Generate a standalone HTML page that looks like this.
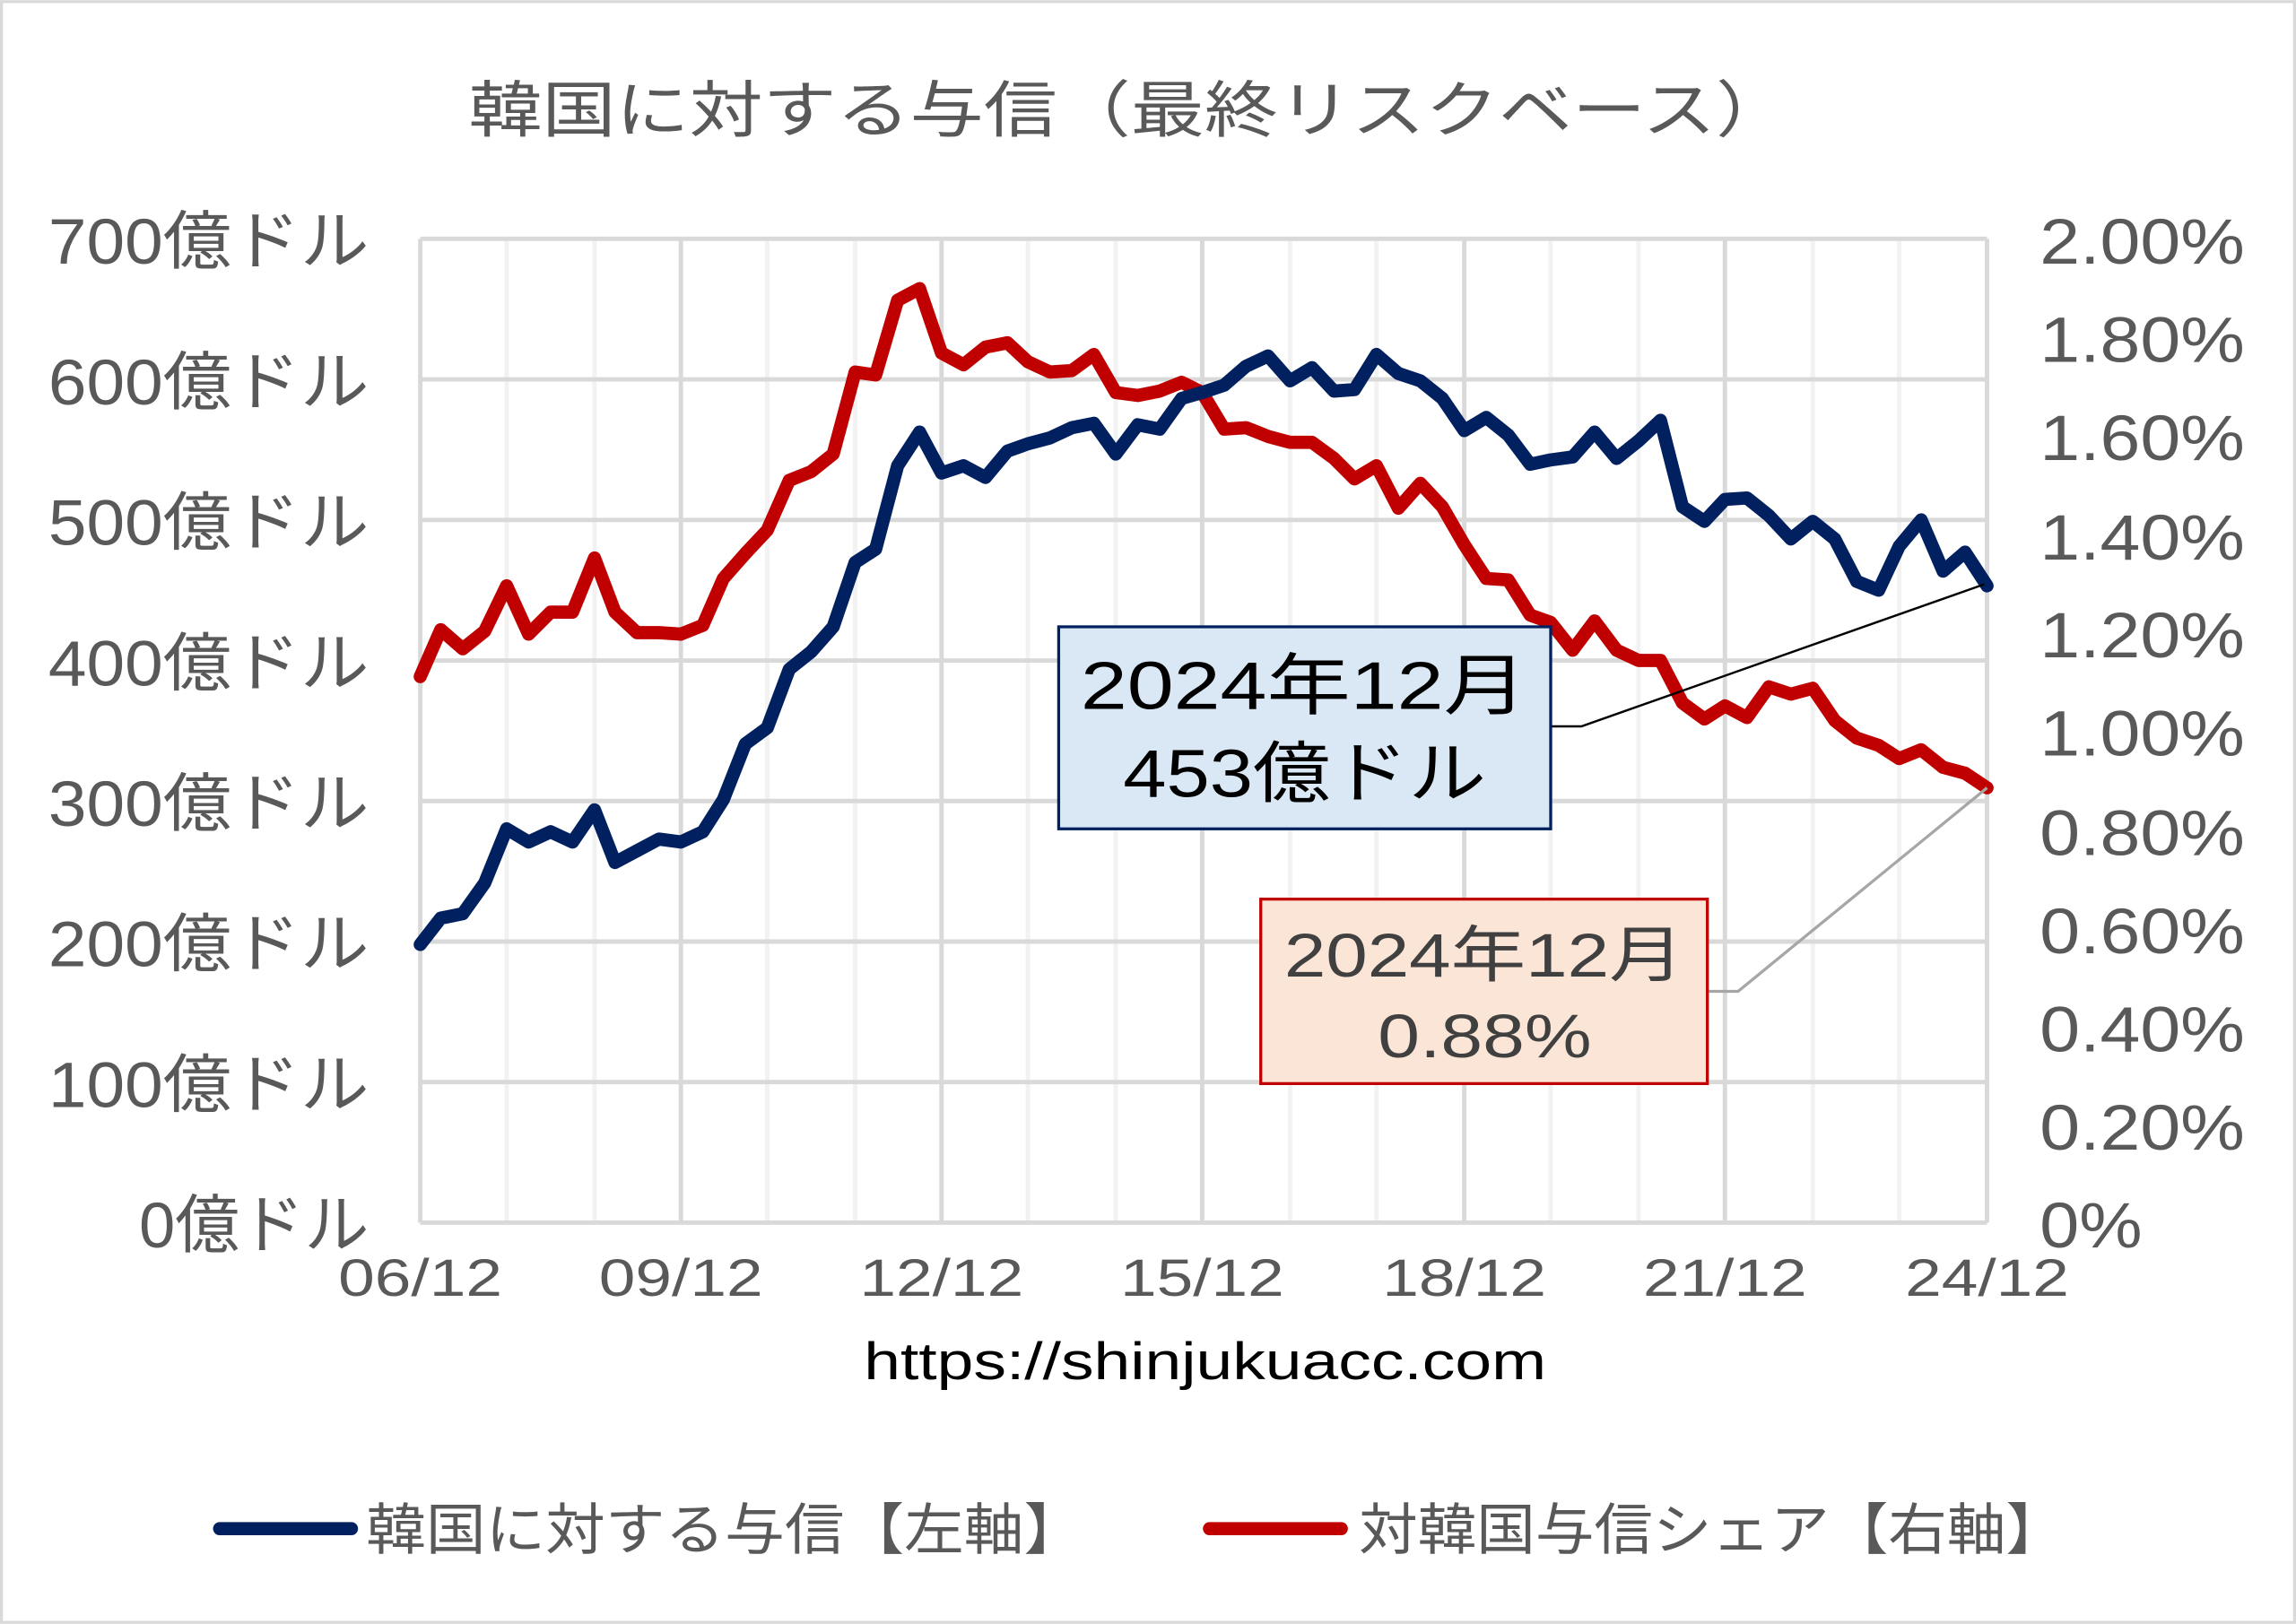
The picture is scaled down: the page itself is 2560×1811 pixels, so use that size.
<!DOCTYPE html>
<html><head><meta charset="utf-8"><style>
html,body{margin:0;padding:0;background:#fff}
svg{display:block}
text{font-family:"Liberation Sans","Noto Sans CJK JP",sans-serif}
</style></head><body>
<svg width="2560" height="1811" viewBox="0 0 1568 1109" xmlns="http://www.w3.org/2000/svg">
<rect x="1" y="1" width="1566" height="1107" fill="#fff" stroke="#d9d9d9" stroke-width="2"/>
<text x="320" y="90" font-size="42" fill="#595959" textLength="902" lengthAdjust="spacingAndGlyphs">韓国に対する与信（最終リスクベース）</text>
<g stroke="#f2f2f2" stroke-width="3">
<line x1="346" y1="163" x2="346" y2="835"/><line x1="406" y1="163" x2="406" y2="835"/>
<line x1="524" y1="163" x2="524" y2="835"/><line x1="584" y1="163" x2="584" y2="835"/>
<line x1="702" y1="163" x2="702" y2="835"/><line x1="762" y1="163" x2="762" y2="835"/>
<line x1="881" y1="163" x2="881" y2="835"/><line x1="940" y1="163" x2="940" y2="835"/>
<line x1="1059" y1="163" x2="1059" y2="835"/><line x1="1119" y1="163" x2="1119" y2="835"/>
<line x1="1238" y1="163" x2="1238" y2="835"/><line x1="1297" y1="163" x2="1297" y2="835"/>
</g>
<g stroke="#d9d9d9" stroke-width="3">
<line x1="287" y1="163" x2="1357" y2="163"/><line x1="287" y1="259" x2="1357" y2="259"/>
<line x1="287" y1="355" x2="1357" y2="355"/><line x1="287" y1="451" x2="1357" y2="451"/>
<line x1="287" y1="547" x2="1357" y2="547"/><line x1="287" y1="643" x2="1357" y2="643"/>
<line x1="287" y1="739" x2="1357" y2="739"/><line x1="287" y1="835" x2="1357" y2="835"/>
<line x1="287" y1="163" x2="287" y2="835"/><line x1="465" y1="163" x2="465" y2="835"/>
<line x1="643" y1="163" x2="643" y2="835"/><line x1="821" y1="163" x2="821" y2="835"/>
<line x1="1000" y1="163" x2="1000" y2="835"/><line x1="1178" y1="163" x2="1178" y2="835"/>
<line x1="1357" y1="163" x2="1357" y2="835"/>
</g>
<g font-size="44" fill="#595959" lengthAdjust="spacingAndGlyphs">
<text x="33" y="180" textLength="219" lengthAdjust="spacingAndGlyphs">700億ドル</text>
<text x="33" y="276" textLength="219" lengthAdjust="spacingAndGlyphs">600億ドル</text>
<text x="33" y="372" textLength="219" lengthAdjust="spacingAndGlyphs">500億ドル</text>
<text x="33" y="468" textLength="219" lengthAdjust="spacingAndGlyphs">400億ドル</text>
<text x="33" y="564" textLength="219" lengthAdjust="spacingAndGlyphs">300億ドル</text>
<text x="33" y="660" textLength="219" lengthAdjust="spacingAndGlyphs">200億ドル</text>
<text x="33" y="756" textLength="219" lengthAdjust="spacingAndGlyphs">100億ドル</text>
<text x="95" y="852" textLength="157" lengthAdjust="spacingAndGlyphs">0億ドル</text>
</g>
<g font-size="44" fill="#595959">
<text x="1393" y="180" textLength="140" lengthAdjust="spacingAndGlyphs">2.00%</text>
<text x="1393" y="247" textLength="140" lengthAdjust="spacingAndGlyphs">1.80%</text>
<text x="1393" y="314" textLength="140" lengthAdjust="spacingAndGlyphs">1.60%</text>
<text x="1393" y="382" textLength="140" lengthAdjust="spacingAndGlyphs">1.40%</text>
<text x="1393" y="449" textLength="140" lengthAdjust="spacingAndGlyphs">1.20%</text>
<text x="1393" y="516" textLength="140" lengthAdjust="spacingAndGlyphs">1.00%</text>
<text x="1393" y="584" textLength="140" lengthAdjust="spacingAndGlyphs">0.80%</text>
<text x="1393" y="651" textLength="140" lengthAdjust="spacingAndGlyphs">0.60%</text>
<text x="1393" y="718" textLength="140" lengthAdjust="spacingAndGlyphs">0.40%</text>
<text x="1393" y="785" textLength="140" lengthAdjust="spacingAndGlyphs">0.20%</text>
<text x="1393" y="852" textLength="70" lengthAdjust="spacingAndGlyphs">0%</text>
</g>
<g font-size="36" fill="#595959">
<text x="231" y="885" textLength="112" lengthAdjust="spacingAndGlyphs">06/12</text>
<text x="409" y="885" textLength="112" lengthAdjust="spacingAndGlyphs">09/12</text>
<text x="587" y="885" textLength="112" lengthAdjust="spacingAndGlyphs">12/12</text>
<text x="765" y="885" textLength="112" lengthAdjust="spacingAndGlyphs">15/12</text>
<text x="944" y="885" textLength="112" lengthAdjust="spacingAndGlyphs">18/12</text>
<text x="1122" y="885" textLength="112" lengthAdjust="spacingAndGlyphs">21/12</text>
<text x="1301" y="885" textLength="112" lengthAdjust="spacingAndGlyphs">24/12</text>
</g>
<text x="590" y="942" font-size="36" fill="#000" textLength="466" lengthAdjust="spacingAndGlyphs">https://shinjukuacc.com</text>
<polyline fill="none" stroke="#c00000" stroke-width="9" stroke-linejoin="round" stroke-linecap="round" points="287,462 301,430 316,443 331,431 346,400 361,433 376,418 391,418 406,381 420,418 435,432 450,432 465,433 480,427 494,395 509,378 524,362 539,328 554,322 569,310 584,254 598,256 613,205 628,197 643,241 658,249 673,237 688,234 702,247 717,254 732,253 747,242 762,268 777,270 792,267 807,261 821,268 836,293 851,292 866,298 881,302 896,302 911,313 925,327 940,318 955,347 970,330 985,346 1000,372 1015,395 1030,396 1045,420 1059,425 1074,444 1089,424 1104,444 1119,451 1134,451 1149,480 1164,491 1178,482 1193,490 1208,469 1223,474 1238,470 1253,492 1268,504 1283,509 1297,518 1312,512 1327,524 1342,528 1357,538"/>
<polyline fill="none" stroke="#002060" stroke-width="9" stroke-linejoin="round" stroke-linecap="round" points="287,645 301,627 316,624 331,603 346,566 361,575 376,568 391,575 406,553 420,589 435,581 450,573 465,575 480,568 494,546 509,508 524,497 539,457 554,445 569,428 584,384 598,375 613,318 628,295 643,323 658,318 673,326 688,308 702,303 717,299 732,292 747,289 762,310 777,290 792,293 807,272 821,268 836,263 851,250 866,243 881,260 896,251 911,267 925,266 940,242 955,255 970,260 985,272 1000,294 1015,285 1030,297 1045,317 1059,314 1074,312 1089,295 1104,313 1119,301 1134,287 1149,346 1164,356 1178,341 1193,340 1208,352 1223,368 1238,356 1253,368 1268,397 1283,403 1297,373 1312,355 1327,390 1342,377 1357,400"/>
<polyline fill="none" stroke="#000" stroke-width="1.5" points="1059,496 1080,496 1355,399"/>
<polyline fill="none" stroke="#a6a6a6" stroke-width="2" points="1166,677 1187,677 1357,538"/>
<rect x="723" y="428" width="336" height="138" fill="#dae8f5" stroke="#002060" stroke-width="2"/>
<text x="738" y="484" font-size="46" fill="#000" textLength="305" lengthAdjust="spacingAndGlyphs">2024年12月</text>
<text x="767" y="544" font-size="46" fill="#000" textLength="248" lengthAdjust="spacingAndGlyphs">453億ドル</text>
<rect x="861" y="614" width="305" height="126" fill="#fbe5d6" stroke="#c00000" stroke-width="2"/>
<text x="877" y="667" font-size="42" fill="#404040" textLength="273" lengthAdjust="spacingAndGlyphs">2024年12月</text>
<text x="941" y="722" font-size="42" fill="#404040" textLength="146" lengthAdjust="spacingAndGlyphs">0.88%</text>
<line x1="150" y1="1044" x2="240" y2="1044" stroke="#002060" stroke-width="9" stroke-linecap="round"/>
<text x="250" y="1058" font-size="38" fill="#595959" textLength="490" lengthAdjust="spacingAndGlyphs">韓国に対する与信【左軸】</text>
<line x1="826" y1="1044" x2="916" y2="1044" stroke="#c00000" stroke-width="9" stroke-linecap="round"/>
<text x="928" y="1058" font-size="38" fill="#595959" textLength="482" lengthAdjust="spacingAndGlyphs">対韓国与信シェア【右軸】</text>
</svg>
</body></html>
